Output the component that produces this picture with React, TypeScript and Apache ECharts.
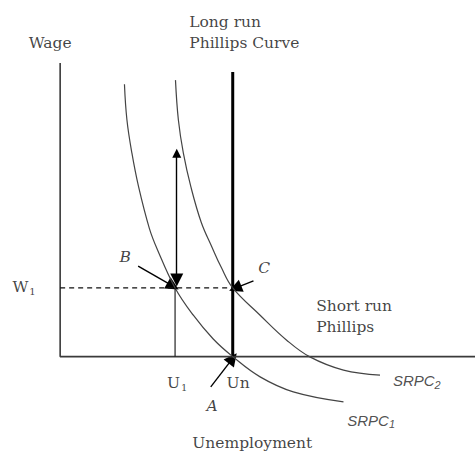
import React, { useEffect, useRef } from "react";
import * as echarts from "echarts";

// Short-run Phillips curves (unemployment, wage)
const srpc1: [number, number][] = [
  [15.5, 92.8], [16.1, 80.6], [17.3, 69.3], [18.9, 57.9], [21.5, 43.7], [23.4, 36.6],
  [27.7, 23.4], [32.1, 14.1], [36.9, 6.0], [41.6, 0], [48.2, -6.9], [56.2, -12.0], [68.3, -15.4],
];
const srpc2: [number, number][] = [
  [27.8, 94.2], [28.5, 80.6], [29.7, 69.3], [31.5, 57.9], [34.0, 45.8], [36.6, 37.3],
  [38.8, 30.5], [41.6, 23.4], [48.2, 14.1], [54.6, 5.6], [60.2, -0.1], [68.3, -4.6], [77.1, -6.3],
];
const naturalRate = 41.6; // Un
const u1 = 27.7; // U1
const w1 = 23.4; // W1
const lrpcTop = 97;
const axisTop = 100;
const axisRight = 100;

// arrows: [from, to]
const doubleArrow: [number, number][] = [[28.1, 69.3], [28.1, 26.1]];
const arrowB: [number, number][] = [[18.8, 30.8], [27.2, 24.0]];
const arrowC: [number, number][] = [[46.6, 25.8], [42.2, 23.3]];
const arrowA: [number, number][] = [[36.3, -10.3], [41.6, -0.6]];

const SERIF = "'DejaVu Serif', serif";
const SANS = "'Liberation Sans', Arial, sans-serif";

type Txt = { t: string; x: number; y: number; pos: "inside" | "right" };
const texts: Txt[] = [
  { t: "Wage", x: -2.4, y: 106.8, pos: "inside" },
  { t: "Long run", x: 31.1, y: 114, pos: "right" },
  { t: "Phillips Curve", x: 31.1, y: 106.8, pos: "right" },
  { t: "{m|W}{s|1}", x: -8.7, y: 23.7, pos: "inside" },
  { t: "{i|B}", x: 15.7, y: 33.9, pos: "inside" },
  { t: "{i|C}", x: 49.2, y: 30.1, pos: "inside" },
  { t: "Short run", x: 61.7, y: 17.2, pos: "right" },
  { t: "Phillips", x: 61.7, y: 10.1, pos: "right" },
  { t: "{m|U}{s|1}", x: 28.2, y: -9.0, pos: "inside" },
  { t: "Un", x: 42.9, y: -9.0, pos: "inside" },
  { t: "{i|A}", x: 36.6, y: -16.9, pos: "inside" },
  { t: "{k|SRPC}{ks|2}", x: 80.2, y: -8.3, pos: "right" },
  { t: "{k|SRPC}{ks|1}", x: 69.2, y: -21.6, pos: "right" },
  { t: "Unemployment", x: 46.3, y: -29.5, pos: "inside" },
];

export default function App() {
  const ref = useRef<HTMLDivElement>(null);
  useEffect(() => {
    if (!ref.current) return;
    const chart = echarts.init(ref.current, null, { renderer: "svg" });
    const lineBase = { type: "line" as const, symbol: "none", silent: true, animation: false };
    chart.setOption({
      animation: false,
      backgroundColor: "#ffffff",
      grid: { left: 0, right: 0, top: 0, bottom: 0 },
      xAxis: { type: "value", min: -14.5, max: 100, show: false },
      yAxis: { type: "value", min: -32.5, max: 121.5, show: false },
      series: [
        {
          ...lineBase,
          name: "axes",
          data: [[0, axisTop], [0, 0], [axisRight, 0]],
          lineStyle: { color: "#3a3a3a", width: 1.6 },
        },
        {
          ...lineBase,
          name: "LRPC",
          data: [[naturalRate, 0], [naturalRate, lrpcTop]],
          lineStyle: { color: "#000", width: 3 },
        },
        {
          ...lineBase,
          name: "SRPC1",
          data: srpc1,
          smooth: 0.4,
          lineStyle: { color: "#444", width: 1.2 },
        },
        {
          ...lineBase,
          name: "SRPC2",
          data: srpc2,
          smooth: 0.4,
          lineStyle: { color: "#444", width: 1.2 },
        },
        {
          ...lineBase,
          name: "W1",
          data: [[0, w1], [naturalRate, w1]],
          lineStyle: { color: "#111", width: 1.2, type: [5, 4] },
        },
        {
          ...lineBase,
          name: "U1",
          data: [[u1, 0], [u1, w1]],
          lineStyle: { color: "#111", width: 1.1 },
        },
        {
          type: "lines",
          coordinateSystem: "cartesian2d",
          silent: true,
          symbol: ["triangle", "triangle"],
          symbolSize: [9, 13],
          lineStyle: { color: "#000", width: 1.4, opacity: 1 },
          data: [{ coords: doubleArrow }],
        },
        {
          type: "lines",
          coordinateSystem: "cartesian2d",
          silent: true,
          symbol: ["none", "triangle"],
          symbolSize: [9, 13],
          lineStyle: { color: "#000", width: 1.4, opacity: 1 },
          data: [{ coords: arrowB }, { coords: arrowC }, { coords: arrowA }],
        },
        {
          type: "scatter",
          silent: true,
          symbolSize: 0.1,
          itemStyle: { color: "rgba(0,0,0,0)" },
          data: texts.map((d) => ({
            value: [d.x, d.y],
            label: {
              show: true,
              position: d.pos,
              distance: 0,
              formatter: d.t,
              color: "#111",
              fontFamily: SERIF,
              fontSize: 15.5,
              rich: {
                m: { fontFamily: SERIF, fontSize: 15.5, color: "#111" },
                s: { fontFamily: SERIF, fontSize: 10, color: "#111", padding: [8, 0, 0, 1] },
                i: { fontFamily: SERIF, fontSize: 15.5, fontStyle: "italic", color: "#111" },
                k: { fontFamily: SANS, fontSize: 15, fontStyle: "italic", color: "#222" },
                ks: { fontFamily: SANS, fontSize: 11, fontStyle: "italic", color: "#222", padding: [8, 0, 0, 0] },
              },
            },
          })),
        },
      ],
    });
    return () => chart.dispose();
  }, []);
  return (
    <div
      ref={ref}
      style={{ position: "fixed", left: 0, top: 0, width: 475, height: 452, background: "#fff" }}
    />
  );
}
